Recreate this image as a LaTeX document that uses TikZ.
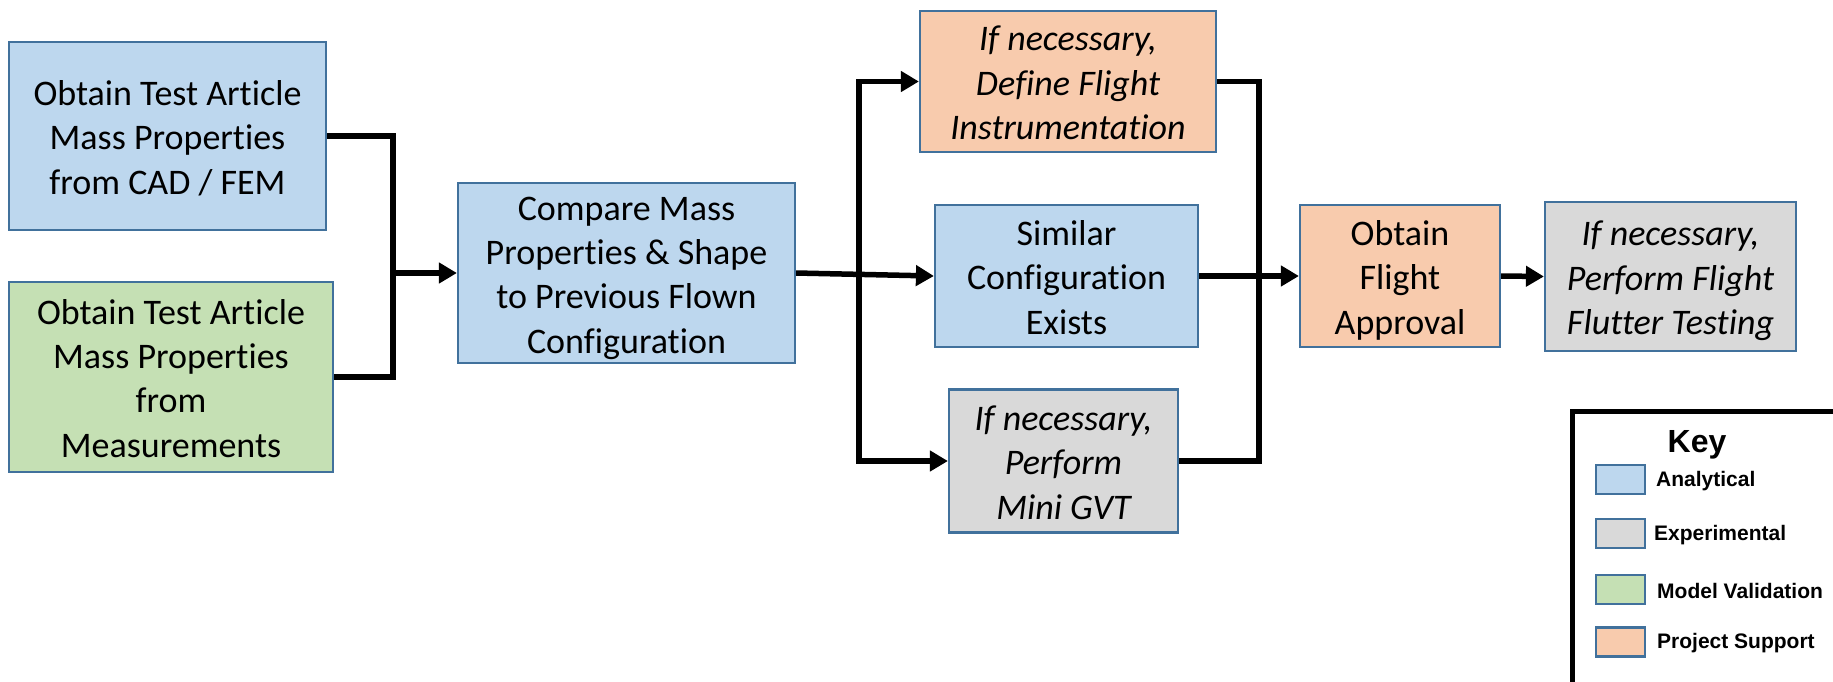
\documentclass[tikz,border=0pt]{standalone}
\usepackage{fontspec}
\setmainfont{Carlito}[Ligatures=NoCommon]
\newfontfamily\keyfont{Liberation Sans}
\usetikzlibrary{arrows.meta}
\definecolor{anablue}{RGB}{189,215,238}
\definecolor{expgray}{RGB}{217,217,217}
\definecolor{valgreen}{RGB}{197,224,180}
\definecolor{suporange}{RGB}{248,203,173}
\definecolor{edgeblue}{RGB}{65,113,156}
% full line ascent for the first line of a box
\newcommand{\linetop}{\rule{0pt}{37pt}}
\tikzset{
  stepbox/.style={draw=edgeblue, line width=2.2pt, inner sep=0pt, align=center,
    font=\fontsize{36}{44.4}\selectfont,
    execute at end node={\rule[-9.7pt]{0pt}{0pt}}},
  ital/.style={font=\fontsize{36}{44.4}\selectfont\itshape},
  link/.style={line width=5.5pt},
  arr/.style={line width=5.5pt, -{Triangle[length=18pt,width=20pt]}},
  swatch/.style={draw=edgeblue, line width=2.5pt, minimum width=49pt, minimum height=29pt, inner sep=0pt},
  keylabel/.style={anchor=west, inner sep=0pt, font=\keyfont\bfseries\fontsize{21}{25}\selectfont},
}
\begin{document}
\begin{tikzpicture}[x=1pt,y=-1pt]
\useasboundingbox (0,0) rectangle (1833,681);
\clip (0,0) rectangle (1833,681);

% process boxes
\node[stepbox, fill=anablue, minimum width=317pt, minimum height=188pt] (cad) at (167.5,136)
  {\linetop Obtain Test Article\\Mass Properties\\from CAD / FEM};
\node[stepbox, fill=valgreen, minimum width=324pt, minimum height=190pt] (meas) at (171,377)
  {\linetop Obtain Test Article\\Mass Properties\\from\\Measurements};
\node[stepbox, fill=anablue, minimum width=337pt, minimum height=178pt] (cmp) at (626.5,273)
  {\linetop Compare Mass\\Properties \& Shape\\to Previous Flown\\Configuration};
\node[stepbox, ital, fill=suporange, minimum width=296pt, minimum height=141pt] (instr) at (1068,81.5)
  {\linetop If necessary,\\Define Flight\\Instrumentation};
\node[stepbox, fill=anablue, minimum width=263pt, minimum height=142pt] (sim) at (1066.5,276)
  {\linetop Similar\\Configuration\\Exists};
\node[stepbox, ital, fill=expgray, minimum width=229pt, minimum height=143pt] (gvt) at (1063.5,461)
  {\linetop If necessary,\\Perform\\Mini GVT};
\node[stepbox, fill=suporange, minimum width=200pt, minimum height=142pt] (appr) at (1400,276)
  {\linetop Obtain\\Flight\\Approval};
\node[stepbox, ital, fill=expgray, minimum width=251pt, minimum height=149pt] (flut) at (1670.5,276.5)
  {\linetop If necessary,\\Perform Flight\\Flutter Testing};

% branch points
\coordinate (jin) at (393,273);
\coordinate (jsplit) at (859,273);
\coordinate (jjoin) at (1259,276);

% connectors
\draw[link] (cad.east) -| (jin) |- (meas.east);
\draw[arr] (jin) -- (cmp.west);
\draw[arr] (cmp.east) -- (sim.west);
\draw[arr] (jsplit) |- (instr.west);
\draw[arr] (jsplit) |- (gvt.west);
\draw[link] (instr.east) -| (jjoin) |- (gvt.east);
\draw[arr] (sim.east) -- (appr.west);
\draw[arr] (appr.east) -- (flut.west);

% key
\draw[line width=5pt, fill=white] (1572.5,411.5) rectangle (1845,700);
\node[inner sep=0pt, font=\keyfont\bfseries\fontsize{32}{36}\selectfont] (keytitle) at (1697,444.5) {Key};
\node[swatch, fill=anablue] (kana) at (1620.5,479.5) {};
\node[swatch, fill=expgray] (kexp) at (1620.5,533.5) {};
\node[swatch, fill=valgreen] (kval) at (1620.5,589.5) {};
\node[swatch, fill=suporange] (ksup) at (1620.5,642) {};
\node[keylabel] (lana) at (1656,481) {Analytical};
\node[keylabel] (lexp) at (1654,535) {Experimental};
\node[keylabel] (lval) at (1657,591) {Model Validation};
\node[keylabel] (lsup) at (1657,643.5) {Project Support};
\end{tikzpicture}
\end{document}
